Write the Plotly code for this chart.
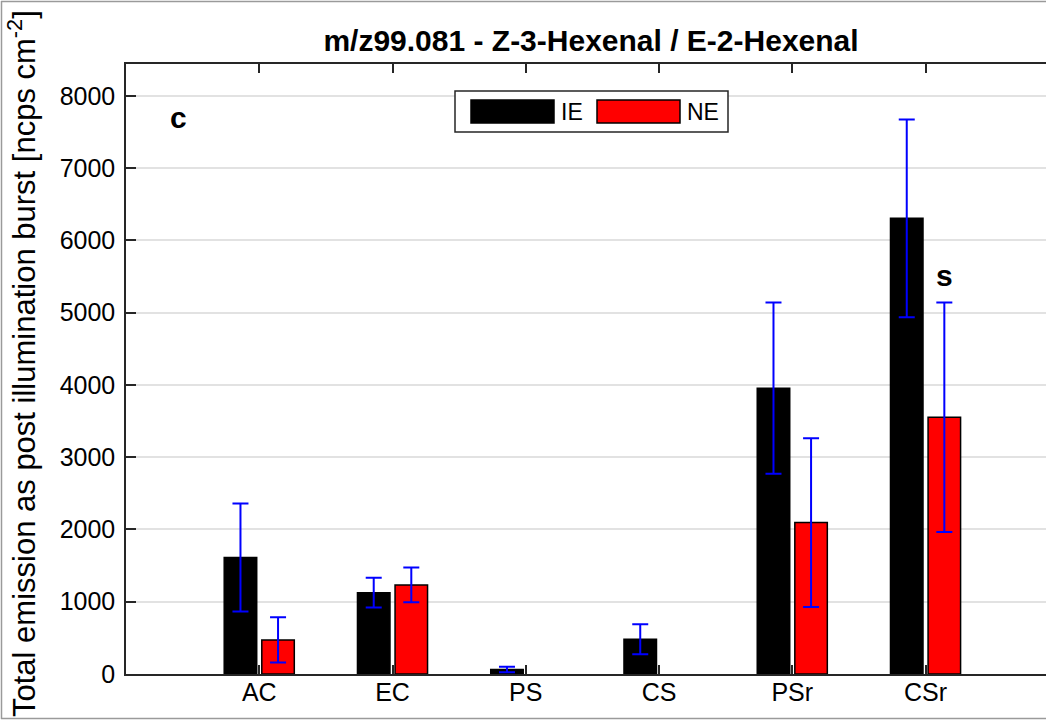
import plotly.graph_objects as go

# Emission data (mean and standard deviation per treatment)
categories = ["AC", "EC", "PS", "CS", "PSr", "CSr"]
series_names = ["IE", "NE"]
ie_mean = [1612, 1125, 62, 480, 3955, 6305]
ie_err = [748, 205, 38, 208, 1185, 1368]
ne_mean = [472, 1232, None, None, 2095, 3552]
ne_err = [313, 240, None, None, 1168, 1588]
y_ticks = [0, 1000, 2000, 3000, 4000, 5000, 6000, 7000, 8000]

W, H = 1046, 720
L, R, T, B = 126, 0, 64, 46
PW, PH = W - L - R, H - T - B
FONT = "Liberation Sans, Arial, Helvetica, sans-serif"
AX = "#262626"


def px(xp):
    return (xp - L) / PW


def py(yp):
    return (H - B - yp) / PH


fig = go.Figure()
for name, vals, errs, col in [
    (series_names[0], ie_mean, ie_err, "#000000"),
    (series_names[1], ne_mean, ne_err, "#ff0000"),
]:
    fig.add_trace(go.Bar(
        x=categories, y=vals, name=name,
        marker=dict(color=col, line=dict(color="#000000", width=1.5)),
        error_y=dict(type="data", array=errs, visible=True,
                     color="#0000ff", thickness=2, width=8),
    ))

fig.update_layout(
    width=W, height=H,
    margin=dict(l=L, r=R, t=T, b=B),
    paper_bgcolor="white", plot_bgcolor="white",
    barmode="group", bargap=0.436, bargroupgap=0.135,
    showlegend=False,
    font=dict(family=FONT, color="#000000"),
    title=dict(text="m/z99.081 - Z-3-Hexenal / E-2-Hexenal",
               font=dict(size=30, family=FONT, weight="bold", color="#000000"),
               xref="paper", x=px(591), xanchor="center",
               yref="container", y=1 - 40 / H, yanchor="middle"),
)

fig.update_xaxes(
    type="category", categoryorder="array", categoryarray=categories,
    range=[-1, 5.904], showgrid=False, zeroline=False,
    showline=True, linecolor=AX, linewidth=1.5, mirror="ticks",
    ticks="inside", ticklen=9, tickwidth=1.5, tickcolor=AX,
    ticklabelstandoff=-5,
    tickfont=dict(size=25, family=FONT, color="#000000"),
)
fig.update_yaxes(
    range=[0, 8440], tickvals=y_ticks, showgrid=True,
    gridcolor="#e2e2e2", gridwidth=1.5, zeroline=False,
    showline=True, linecolor=AX, linewidth=1.5,
    ticks="inside", ticklen=10, tickwidth=1.5, tickcolor=AX,
    ticklabelstandoff=4,
    tickfont=dict(size=25, family=FONT, color="#000000"),
)

# y-axis label
fig.add_annotation(
    text="Total emission as post illumination burst [ncps cm<sup>-2</sup>]",
    xref="paper", yref="paper", x=px(22), y=py(364),
    xanchor="center", yanchor="middle", textangle=-90, showarrow=False,
    font=dict(size=31, family=FONT, color="#000000"),
)

# panel letter and significance marker
fig.add_annotation(text="c", xref="paper", yref="y", x=px(168), y=7700,
                   showarrow=False, font=dict(size=30, family=FONT, weight="bold"))
fig.add_annotation(text="s", xref="x", yref="y", x="CSr", xshift=19, y=5510,
                   showarrow=False, font=dict(size=30, family=FONT, weight="bold"))

# legend box with wide swatches
shapes = [
    dict(type="rect", xref="paper", yref="paper",
         x0=px(455), x1=px(728), y0=py(132), y1=py(91),
         line=dict(color=AX, width=1.5), fillcolor="white", layer="above"),
    dict(type="rect", xref="paper", yref="paper",
         x0=px(471), x1=px(554), y0=py(123), y1=py(100),
         line=dict(color="#000000", width=1.5), fillcolor="#000000", layer="above"),
    dict(type="rect", xref="paper", yref="paper",
         x0=px(597), x1=px(680), y0=py(123), y1=py(100),
         line=dict(color="#000000", width=1.5), fillcolor="#ff0000", layer="above"),
]
fig.add_annotation(text=series_names[0], xref="paper", yref="paper",
                   x=px(559), y=py(112), xanchor="left", yanchor="middle",
                   showarrow=False, font=dict(size=23, family=FONT))
fig.add_annotation(text=series_names[1], xref="paper", yref="paper",
                   x=px(685), y=py(112), xanchor="left", yanchor="middle",
                   showarrow=False, font=dict(size=23, family=FONT))

# thin frame around the figure (top, left, bottom)
for x0, y0, x1, y1 in [(1, 1.5, W, 1.5), (1.5, 1, 1.5, H - 1), (1, H - 1.5, W, H - 1.5)]:
    shapes.append(dict(type="line", xref="paper", yref="paper",
                       x0=px(x0), y0=py(y0), x1=px(x1), y1=py(y1),
                       line=dict(color="#9a9a9a", width=1.5), layer="above"))
fig.update_layout(shapes=shapes)

fig.write_html("out.html")
